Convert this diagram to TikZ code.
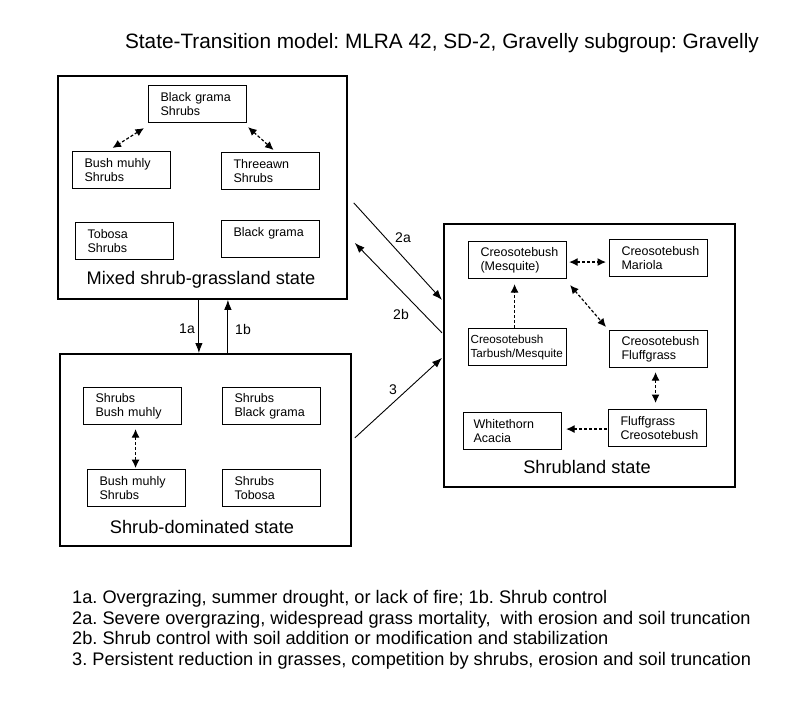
\documentclass[tikz,border=0pt]{standalone}
\usepackage{fontspec}
\setmainfont{Liberation Sans}
\usetikzlibrary{arrows.meta,calc}
\frenchspacing
\begin{document}
\begin{tikzpicture}[x=1pt,y=-1pt,
  statebox/.style={draw, line width=1.8pt, inner sep=0pt, anchor=north west},
  sbox/.style={draw, line width=1.1pt, minimum width=98pt, minimum height=37pt,
    text width=74pt, inner xsep=12pt, inner ysep=0pt, align=left, anchor=north west,
    font=\fontsize{12.5}{14}\selectfont},
  tip/.tip={Latex[length=8.5pt,width=8pt]},
  dd/.style={line width=1.2pt, dash pattern=on 3pt off 2pt, tip-tip},
  ds/.style={line width=1.2pt, dash pattern=on 3pt off 2pt, -tip},
  tr/.style={line width=0.9pt, -{Latex[length=10pt,width=7.5pt]}},
  lab/.style={font=\fontsize{14}{16}\selectfont, inner sep=0pt},
  stitle/.style={font=\fontsize{18.2}{20}\selectfont, inner sep=0pt}
]
\fill[white] (0,0) rectangle (800,726);
\useasboundingbox (0,0) rectangle (800,726);

% title
\node[font=\fontsize{20.8}{24}\selectfont, inner sep=0pt] (title) at (442,43)
  {State-Transition model: MLRA 42, SD-2, Gravelly subgroup: Gravelly};

% state boxes
\node[statebox, minimum width=289pt, minimum height=223pt] (A) at (57,75) {};
\node[statebox, minimum width=291pt, minimum height=192pt] (B) at (59,353) {};
\node[statebox, minimum width=291pt, minimum height=263pt] (C) at (443,223) {};

\node[stitle] (At) at (201,280) {Mixed shrub-grassland state};
\node[stitle] (Bt) at (202,527) {Shrub-dominated state};
\node[stitle] (Ct) at (587,467) {Shrubland state};

% boxes in A
\node[sbox] (bgs) at (148,85) {Black grama\\Shrubs};
\node[sbox] (bms) at (72,151) {Bush muhly\\Shrubs};
\node[sbox] (tas) at (221,152) {Threeawn\\Shrubs};
\node[sbox] (tos) at (75,222) {Tobosa\\Shrubs};
\node[sbox] (bg) at (221,220) {Black grama\\\mbox{}};

\draw[dd] ($(bgs.south west)+(-4,5)$) -- ($(bms.north)+(-9,-3)$);
\draw[dd] ($(bgs.south east)+(1,4)$) -- ($(tas.north)+(3,-2)$);

% boxes in B
\node[sbox] (sbm) at (83,387) {Shrubs\\Bush muhly};
\node[sbox] (sbg) at (222,387) {Shrubs\\Black grama};
\node[sbox] (bms2) at (87,469) {Bush muhly\\Shrubs};
\node[sbox] (sto) at (222,469) {Shrubs\\Tobosa};

\draw[dd] ($(sbm.south)+(3,4)$) -- ($(sbm.south)+(3,43)$);

% boxes in C
\node[sbox] (cm) at (468,241) {Creosotebush\\(Mesquite)};
\node[sbox] (cma) at (609,239) {Creosotebush\\Mariola};
\node[sbox, inner xsep=2pt, text width=94pt, font=\fontsize{11.7}{14}\selectfont] (ct) at (468,328) {Creosotebush\\Tarbush/Mesquite};
\node[sbox] (cf) at (609,330) {Creosotebush\\Fluffgrass};
\node[sbox, inner xsep=10pt, text width=78pt] (wa) at (463,412) {Whitethorn\\Acacia};
\node[sbox] (fc) at (608,409) {Fluffgrass\\Creosotebush};

\draw[dd] ($(cm.east)+(2,2)$) -- ($(cm.east -| cma.west)+(-3,2)$);
\draw[ds] ($(ct.north)+(-3,0)$) -- ($(cm.south)+(-3,5)$);
\draw[dd] ($(cm.south east)+(3,6)$) -- ($(cf.north west)+(-3,-3)$);
\draw[dd] ($(cf.south)+(-3,4)$) -- ($(fc.north)+(-2,-6)$);
\draw[ds] ($(fc.west)+(-1,1)$) -- ($(fc.west -| wa.east)+(4,1)$);

% transitions
\draw[tr] ($(A.south)+(-3.5,0)$) coordinate (p1a) -- (p1a |- B.north);
\draw[tr] ($(B.north)+(22.5,0)$) coordinate (p1b) -- (p1b |- A.south);
\draw[tr] ($(A.east)+(6,15.5)$) -- ($(C.west)+(-1,-55.5)$);
\draw[tr] ($(C.west)+(-1,-22.5)$) -- ($(A.east)+(7,55.5)$);
\draw[tr] ($(B.east)+(3,-12)$) -- ($(C.west)+(-1,2.5)$);

\node[lab] (l1a) at (187,329) {1a};
\node[lab] (l1b) at (243,329) {1b};
\node[lab] (l2a) at (403,238) {2a};
\node[lab] (l2b) at (401,314) {2b};
\node[lab] (l3) at (393,390) {3};

% notes
\node[font=\fontsize{18.2}{20.8}\selectfont, inner sep=0pt, anchor=north west, align=left] (notes) at (72,590)
{1a. Overgrazing, summer drought, or lack of fire; 1b. Shrub control\\
2a. Severe overgrazing, widespread grass mortality,\ \ with erosion and soil truncation\\
2b. Shrub control with soil addition or modification and stabilization\\
3. Persistent reduction in grasses, competition by shrubs, erosion and soil truncation};
\end{tikzpicture}
\end{document}
